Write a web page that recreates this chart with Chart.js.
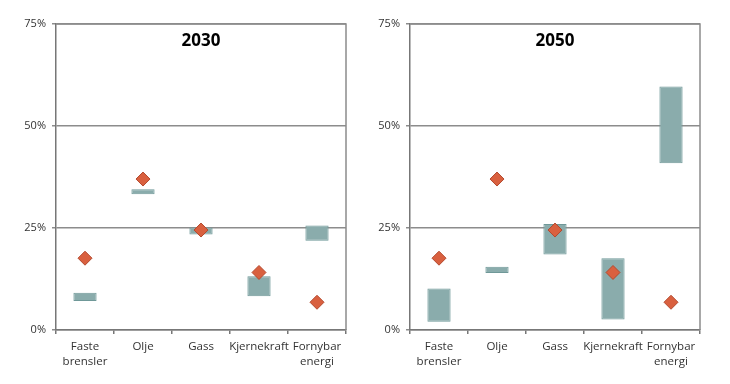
<!DOCTYPE html>
<html>
<head>
<meta charset="utf-8">
<script src="https://cdn.jsdelivr.net/npm/chart.js@4"></script>
<style>
  body { margin: 0; background: #fff; }
  .wrap { display: flex; width: 730px; height: 384px; }
  canvas { display: block; }
</style>
</head>
<body>
<div class="wrap">
  <canvas id="chart2030" width="365" height="384"></canvas>
  <canvas id="chart2050" width="365" height="384"></canvas>
</div>
<script>
// Categories and values (shares in %)
const categories = [['Faste', 'brensler'], 'Olje', 'Gass', 'Kjernekraft', ['Fornybar', 'energi']];
const yTicks = [0, 25, 50, 75];

// Diamond markers (same in both panels)
const markerValues = [17.6, 37.0, 24.5, 14.1, 6.8];

// Ranges 2030 [low, high]
const range2030Low = [7.1, 33.3, 23.4, 8.3, 21.9];
const range2030High = [9.1, 34.5, 25.1, 13.2, 25.6];

// Ranges 2050 [low, high]
const range2050Low = [2.0, 14.0, 18.5, 2.6, 40.9];
const range2050High = [10.2, 15.5, 26.0, 17.6, 59.7];

const fontFamily = '"Open Sans", "Noto Sans", sans-serif';

// Title inside plot area + border around chart area
const panelPlugin = {
  id: 'panelPlugin',
  afterDraw(chart, args, opts) {
    const { ctx, chartArea } = chart;
    ctx.save();
    ctx.strokeStyle = '#8c8c8c';
    ctx.lineWidth = 1.5;
    ctx.beginPath();
    ctx.moveTo(chartArea.left, chartArea.top);
    ctx.lineTo(chartArea.right, chartArea.top);
    ctx.lineTo(chartArea.right, chartArea.bottom);
    ctx.stroke();
    ctx.fillStyle = '#000';
    ctx.font = 'bold 17px ' + fontFamily;
    ctx.textAlign = 'center';
    ctx.textBaseline = 'middle';
    ctx.fillText(opts.text, (chartArea.left + chartArea.right) / 2, chartArea.top + 17);
    ctx.restore();
  }
};

function makeChart(id, title, lows, highs, axisWidth, padRight) {
  const ranges = lows.map((v, i) => [v, highs[i]]);
  return new Chart(document.getElementById(id), {
    type: 'bar',
    data: {
      labels: categories,
      datasets: [
        {
          type: 'line',
          data: markerValues,
          showLine: false,
          pointStyle: 'rectRot',
          pointRadius: 7,
          pointBackgroundColor: '#d9603f',
          pointBorderColor: '#b4492e',
          pointBorderWidth: 1,
          order: 0
        },
        {
          data: ranges,
          backgroundColor: '#8aacac',
          borderColor: '#6f9898',
          borderWidth: 1,
          borderSkipped: false,
          barPercentage: 0.4,
          categoryPercentage: 1,
          order: 1
        }
      ]
    },
    options: {
      responsive: false,
      animation: false,
      devicePixelRatio: 1,
      layout: { padding: { top: 24, right: padRight, bottom: 0, left: 0 } },
      plugins: {
        legend: { display: false },
        tooltip: { enabled: false },
        panelPlugin: { text: title }
      },
      scales: {
        x: {
          offset: true,
          grid: { offset: true, drawOnChartArea: false, drawTicks: true, tickLength: 4, color: '#777', lineWidth: 1.5 },
          border: { color: '#777', width: 1.5 },
          ticks: { color: '#333', font: { family: fontFamily, size: 11.5, lineHeight: 1.25 }, padding: 6, maxRotation: 0, autoSkip: false },
          afterFit(scale) { scale.height = 54; }
        },
        y: {
          min: 0,
          max: 75,
          afterBuildTicks(scale) { scale.ticks = yTicks.map(v => ({ value: v })); },
          grid: { color: '#8c8c8c', lineWidth: 1.5, tickLength: 4, drawTicks: true },
          border: { color: '#777', width: 1.5 },
          ticks: {
            color: '#333',
            font: { family: fontFamily, size: 11 },
            padding: 6,
            callback: v => v + '%'
          },
          afterFit(scale) { scale.width = axisWidth; }
        }
      }
    },
    plugins: [panelPlugin]
  });
}

makeChart('chart2030', '2030', range2030Low, range2030High, 56, 19);
makeChart('chart2050', '2050', range2050Low, range2050High, 45, 30);
</script>
</body>
</html>
